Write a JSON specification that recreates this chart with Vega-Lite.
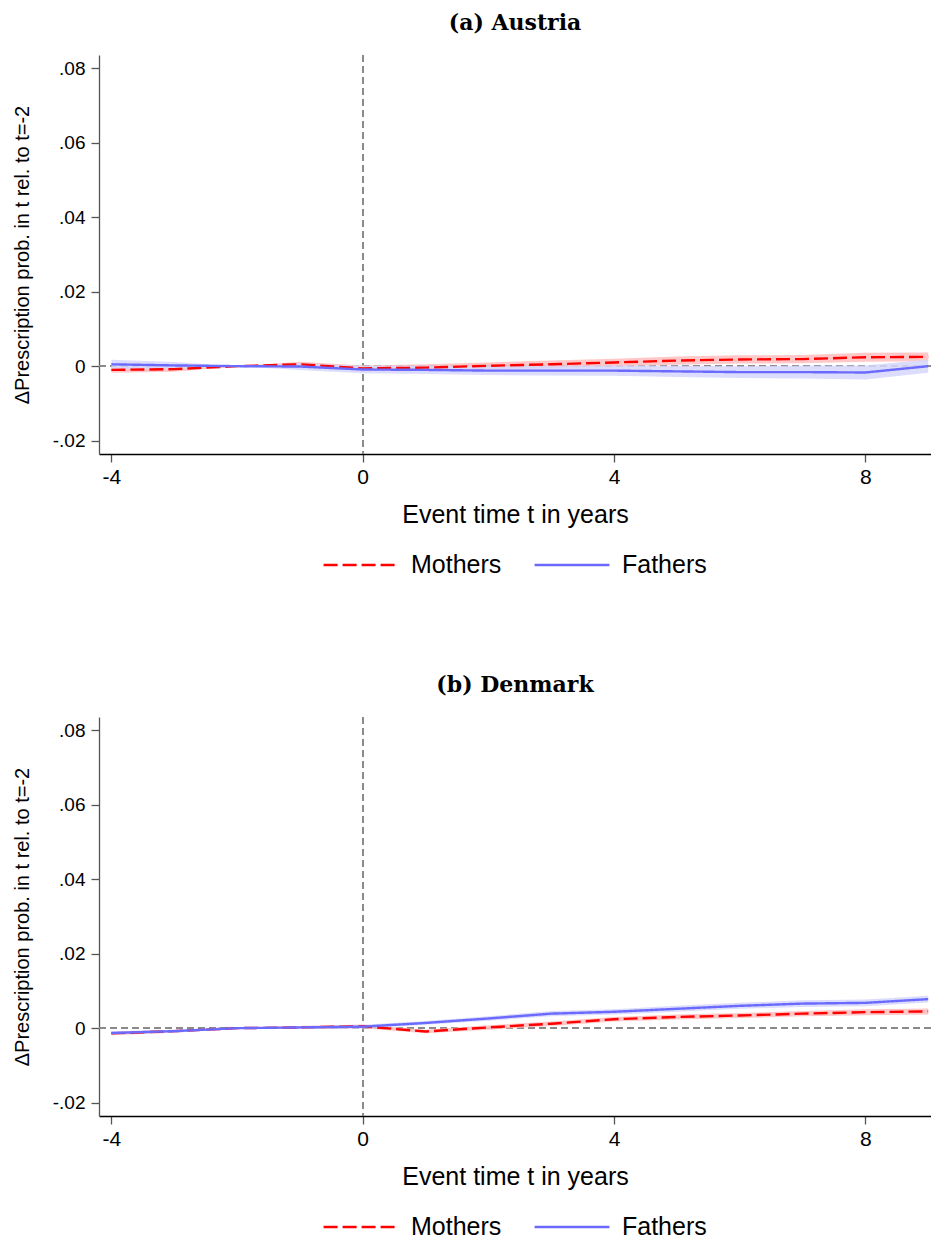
{
  "$schema": "https://vega.github.io/schema/vega-lite/v6.json",
  "background": "white",
  "padding": {"left": 12, "right": 0, "top": 12, "bottom": 0},
  "spacing": 96,
  "datasets": {
    "d": [
      {"country": "Austria", "group": "Mothers", "t": -4, "b": -0.0010, "lo": -0.0018, "hi": -0.0002},
      {"country": "Austria", "group": "Mothers", "t": -3, "b": -0.0008, "lo": -0.0015, "hi": -0.0001},
      {"country": "Austria", "group": "Mothers", "t": -2, "b": 0.0, "lo": 0.0, "hi": 0.0},
      {"country": "Austria", "group": "Mothers", "t": -1, "b": 0.0005, "lo": -0.0002, "hi": 0.0012},
      {"country": "Austria", "group": "Mothers", "t": 0, "b": -0.0006, "lo": -0.0014, "hi": 0.0002},
      {"country": "Austria", "group": "Mothers", "t": 1, "b": -0.0004, "lo": -0.0013, "hi": 0.0005},
      {"country": "Austria", "group": "Mothers", "t": 2, "b": 0.0001, "lo": -0.0008, "hi": 0.0010},
      {"country": "Austria", "group": "Mothers", "t": 3, "b": 0.0005, "lo": -0.0005, "hi": 0.0015},
      {"country": "Austria", "group": "Mothers", "t": 4, "b": 0.0010, "lo": 0.0000, "hi": 0.0020},
      {"country": "Austria", "group": "Mothers", "t": 5, "b": 0.0015, "lo": 0.0004, "hi": 0.0026},
      {"country": "Austria", "group": "Mothers", "t": 6, "b": 0.0018, "lo": 0.0007, "hi": 0.0029},
      {"country": "Austria", "group": "Mothers", "t": 7, "b": 0.0019, "lo": 0.0008, "hi": 0.0030},
      {"country": "Austria", "group": "Mothers", "t": 8, "b": 0.0024, "lo": 0.0012, "hi": 0.0036},
      {"country": "Austria", "group": "Mothers", "t": 9, "b": 0.0025, "lo": 0.0013, "hi": 0.0037},
      {"country": "Austria", "group": "Fathers", "t": -4, "b": 0.0005, "lo": -0.0007, "hi": 0.0017},
      {"country": "Austria", "group": "Fathers", "t": -3, "b": 0.0002, "lo": -0.0007, "hi": 0.0011},
      {"country": "Austria", "group": "Fathers", "t": -2, "b": 0.0, "lo": 0.0, "hi": 0.0},
      {"country": "Austria", "group": "Fathers", "t": -1, "b": -0.0001, "lo": -0.0010, "hi": 0.0008},
      {"country": "Austria", "group": "Fathers", "t": 0, "b": -0.0009, "lo": -0.0019, "hi": 0.0001},
      {"country": "Austria", "group": "Fathers", "t": 1, "b": -0.0010, "lo": -0.0021, "hi": 0.0001},
      {"country": "Austria", "group": "Fathers", "t": 2, "b": -0.0012, "lo": -0.0024, "hi": 0.0000},
      {"country": "Austria", "group": "Fathers", "t": 3, "b": -0.0012, "lo": -0.0025, "hi": 0.0001},
      {"country": "Austria", "group": "Fathers", "t": 4, "b": -0.0012, "lo": -0.0026, "hi": 0.0002},
      {"country": "Austria", "group": "Fathers", "t": 5, "b": -0.0014, "lo": -0.0029, "hi": 0.0001},
      {"country": "Austria", "group": "Fathers", "t": 6, "b": -0.0016, "lo": -0.0032, "hi": 0.0000},
      {"country": "Austria", "group": "Fathers", "t": 7, "b": -0.0016, "lo": -0.0033, "hi": 0.0001},
      {"country": "Austria", "group": "Fathers", "t": 8, "b": -0.0017, "lo": -0.0036, "hi": 0.0002},
      {"country": "Austria", "group": "Fathers", "t": 9, "b": 0.0000, "lo": -0.0018, "hi": 0.0018},
      {"country": "Denmark", "group": "Mothers", "t": -4, "b": -0.0014, "lo": -0.0019, "hi": -0.0009},
      {"country": "Denmark", "group": "Mothers", "t": -3, "b": -0.0008, "lo": -0.0012, "hi": -0.0004},
      {"country": "Denmark", "group": "Mothers", "t": -2, "b": 0.0, "lo": 0.0, "hi": 0.0},
      {"country": "Denmark", "group": "Mothers", "t": -1, "b": 0.0002, "lo": -0.0002, "hi": 0.0006},
      {"country": "Denmark", "group": "Mothers", "t": 0, "b": 0.0005, "lo": 0.0000, "hi": 0.0010},
      {"country": "Denmark", "group": "Mothers", "t": 1, "b": -0.0009, "lo": -0.0014, "hi": -0.0004},
      {"country": "Denmark", "group": "Mothers", "t": 2, "b": 0.0002, "lo": -0.0004, "hi": 0.0008},
      {"country": "Denmark", "group": "Mothers", "t": 3, "b": 0.0012, "lo": 0.0006, "hi": 0.0018},
      {"country": "Denmark", "group": "Mothers", "t": 4, "b": 0.0024, "lo": 0.0018, "hi": 0.0030},
      {"country": "Denmark", "group": "Mothers", "t": 5, "b": 0.0030, "lo": 0.0023, "hi": 0.0037},
      {"country": "Denmark", "group": "Mothers", "t": 6, "b": 0.0034, "lo": 0.0027, "hi": 0.0041},
      {"country": "Denmark", "group": "Mothers", "t": 7, "b": 0.0039, "lo": 0.0032, "hi": 0.0046},
      {"country": "Denmark", "group": "Mothers", "t": 8, "b": 0.0043, "lo": 0.0035, "hi": 0.0051},
      {"country": "Denmark", "group": "Mothers", "t": 9, "b": 0.0045, "lo": 0.0037, "hi": 0.0053},
      {"country": "Denmark", "group": "Fathers", "t": -4, "b": -0.0013, "lo": -0.0018, "hi": -0.0008},
      {"country": "Denmark", "group": "Fathers", "t": -3, "b": -0.0008, "lo": -0.0012, "hi": -0.0004},
      {"country": "Denmark", "group": "Fathers", "t": -2, "b": 0.0, "lo": 0.0, "hi": 0.0},
      {"country": "Denmark", "group": "Fathers", "t": -1, "b": 0.0002, "lo": -0.0002, "hi": 0.0006},
      {"country": "Denmark", "group": "Fathers", "t": 0, "b": 0.0004, "lo": -0.0001, "hi": 0.0009},
      {"country": "Denmark", "group": "Fathers", "t": 1, "b": 0.0014, "lo": 0.0009, "hi": 0.0019},
      {"country": "Denmark", "group": "Fathers", "t": 2, "b": 0.0026, "lo": 0.0020, "hi": 0.0032},
      {"country": "Denmark", "group": "Fathers", "t": 3, "b": 0.0039, "lo": 0.0032, "hi": 0.0046},
      {"country": "Denmark", "group": "Fathers", "t": 4, "b": 0.0044, "lo": 0.0037, "hi": 0.0051},
      {"country": "Denmark", "group": "Fathers", "t": 5, "b": 0.0052, "lo": 0.0044, "hi": 0.0060},
      {"country": "Denmark", "group": "Fathers", "t": 6, "b": 0.0060, "lo": 0.0052, "hi": 0.0068},
      {"country": "Denmark", "group": "Fathers", "t": 7, "b": 0.0066, "lo": 0.0057, "hi": 0.0075},
      {"country": "Denmark", "group": "Fathers", "t": 8, "b": 0.0068, "lo": 0.0059, "hi": 0.0077},
      {"country": "Denmark", "group": "Fathers", "t": 9, "b": 0.0078, "lo": 0.0069, "hi": 0.0087}
    ]
  },
  "vconcat": [
    {
      "title": {"text": "(a) Austria"},
      "width": 832,
      "height": 399,
      "data": {"name": "d"},
      "transform": [{"filter": "datum.country == 'Austria'"}],
      "layer": [
        {"mark": {"type": "rule", "color": "#8a8a8a", "strokeDash": [7, 4], "strokeWidth": 1.4}, "encoding": {"y": {"datum": 0, "type": "quantitative"}}},
        {"mark": {"type": "rule", "color": "#8a8a8a", "strokeDash": [7, 4], "strokeWidth": 1.4}, "encoding": {"x": {"datum": 0, "type": "quantitative"}}},
        {
          "transform": [{"filter": "datum.group == 'Mothers'"}],
          "mark": {"type": "area", "color": "#ffbdbd", "opacity": 0.85},
          "encoding": {"x": {"field": "t", "type": "quantitative"}, "y": {"field": "lo", "type": "quantitative"}, "y2": {"field": "hi"}}
        },
        {
          "transform": [{"filter": "datum.group == 'Fathers'"}],
          "mark": {"type": "area", "color": "#d6d6fc", "opacity": 0.85},
          "encoding": {"x": {"field": "t", "type": "quantitative"}, "y": {"field": "lo", "type": "quantitative"}, "y2": {"field": "hi"}}
        },
        {
          "mark": {"type": "line", "strokeWidth": 2.4},
          "encoding": {
            "x": {"field": "t", "type": "quantitative", "scale": {"domain": [-4.197, 9.045], "nice": false, "zero": false}, "axis": {"values": [-4, 0, 4, 8], "title": "Event time t in years", "labelExpr": "datum.value < 0 ? '-' + abs(datum.value) : '' + datum.value"}},
            "y": {"field": "b", "type": "quantitative", "scale": {"domain": [-0.0236, 0.0836], "nice": false, "zero": false}, "axis": {"values": [-0.02, 0, 0.02, 0.04, 0.06, 0.08], "title": "ΔPrescription prob. in t rel. to t=-2", "labelExpr": "datum.value == 0 ? '0' : (datum.value < 0 ? '-' : '') + replace(format(abs(datum.value), '.2f'), '0.', '.')"}},
            "color": {"field": "group", "type": "nominal", "sort": ["Mothers", "Fathers"], "scale": {"domain": ["Mothers", "Fathers"], "range": ["#ff0000", "#6a6aff"]}, "legend": {"title": null, "orient": "none", "legendX": 223, "legendY": 471, "encode": {"symbols": {"update": {"strokeDash": {"signal": "datum.value === 'Mothers' ? [20, 7] : [1, 0]"}}}}}},
            "strokeDash": {"field": "group", "type": "nominal", "sort": ["Mothers", "Fathers"], "scale": {"domain": ["Mothers", "Fathers"], "range": [[14, 5], [1, 0]]}, "legend": {"title": null, "orient": "none", "legendX": 223, "legendY": 471, "encode": {"symbols": {"update": {"strokeDash": {"signal": "datum.value === 'Mothers' ? [20, 7] : [1, 0]"}}}}}}
          }
        }
      ]
    },
    {
      "title": {"text": "(b) Denmark"},
      "width": 832,
      "height": 399,
      "data": {"name": "d"},
      "transform": [{"filter": "datum.country == 'Denmark'"}],
      "layer": [
        {"mark": {"type": "rule", "color": "#8a8a8a", "strokeDash": [7, 4], "strokeWidth": 1.4}, "encoding": {"y": {"datum": 0, "type": "quantitative"}}},
        {"mark": {"type": "rule", "color": "#8a8a8a", "strokeDash": [7, 4], "strokeWidth": 1.4}, "encoding": {"x": {"datum": 0, "type": "quantitative"}}},
        {
          "transform": [{"filter": "datum.group == 'Mothers'"}],
          "mark": {"type": "area", "color": "#ffbdbd", "opacity": 0.85},
          "encoding": {"x": {"field": "t", "type": "quantitative"}, "y": {"field": "lo", "type": "quantitative"}, "y2": {"field": "hi"}}
        },
        {
          "transform": [{"filter": "datum.group == 'Fathers'"}],
          "mark": {"type": "area", "color": "#d6d6fc", "opacity": 0.85},
          "encoding": {"x": {"field": "t", "type": "quantitative"}, "y": {"field": "lo", "type": "quantitative"}, "y2": {"field": "hi"}}
        },
        {
          "mark": {"type": "line", "strokeWidth": 2.4},
          "encoding": {
            "x": {"field": "t", "type": "quantitative", "scale": {"domain": [-4.197, 9.045], "nice": false, "zero": false}, "axis": {"values": [-4, 0, 4, 8], "title": "Event time t in years", "labelExpr": "datum.value < 0 ? '-' + abs(datum.value) : '' + datum.value"}},
            "y": {"field": "b", "type": "quantitative", "scale": {"domain": [-0.0236, 0.0836], "nice": false, "zero": false}, "axis": {"values": [-0.02, 0, 0.02, 0.04, 0.06, 0.08], "title": "ΔPrescription prob. in t rel. to t=-2", "labelExpr": "datum.value == 0 ? '0' : (datum.value < 0 ? '-' : '') + replace(format(abs(datum.value), '.2f'), '0.', '.')"}},
            "color": {"field": "group", "type": "nominal", "sort": ["Mothers", "Fathers"], "scale": {"domain": ["Mothers", "Fathers"], "range": ["#ff0000", "#6a6aff"]}, "legend": {"title": null, "orient": "none", "legendX": 223, "legendY": 471, "encode": {"symbols": {"update": {"strokeDash": {"signal": "datum.value === 'Mothers' ? [20, 7] : [1, 0]"}}}}}},
            "strokeDash": {"field": "group", "type": "nominal", "sort": ["Mothers", "Fathers"], "scale": {"domain": ["Mothers", "Fathers"], "range": [[14, 5], [1, 0]]}, "legend": {"title": null, "orient": "none", "legendX": 223, "legendY": 471, "encode": {"symbols": {"update": {"strokeDash": {"signal": "datum.value === 'Mothers' ? [20, 7] : [1, 0]"}}}}}}
          }
        }
      ]
    }
  ],
  "resolve": {
    "scale": {"color": "independent", "strokeDash": "independent", "x": "independent", "y": "independent"},
    "legend": {"color": "independent", "strokeDash": "independent"}
  },
  "config": {
    "view": {"stroke": null},
    "font": "Liberation Sans",
    "title": {"font": "DejaVu Serif", "fontWeight": "bold", "fontSize": 22, "color": "black", "anchor": "middle", "offset": 19},
    "axis": {
      "grid": false,
      "domainWidth": 1.3,
      "tickSize": 8,
      "tickWidth": 1.3,
      "labelFont": "Liberation Sans",
      "labelColor": "black",
      "titleFont": "Liberation Sans",
      "titleFontWeight": "normal",
      "titleColor": "black"
    },
    "axisX": {"domainColor": "black", "tickColor": "#555555", "labelFontSize": 21, "titleFontSize": 25, "labelPadding": 4, "titlePadding": 15},
    "axisY": {"domainColor": "#555555", "tickColor": "#555555", "labelFontSize": 19, "titleFontSize": 20, "labelPadding": 6, "titlePadding": 20},
    "legend": {
      "direction": "horizontal",
      "padding": 0,
      "symbolType": "stroke",
      "symbolSize": 5600,
      "symbolStrokeWidth": 2.4,
      "labelFont": "Liberation Sans",
      "labelFontSize": 25,
      "labelColor": "black",
      "labelOffset": 11,
      "columnPadding": 27
    }
  }
}
